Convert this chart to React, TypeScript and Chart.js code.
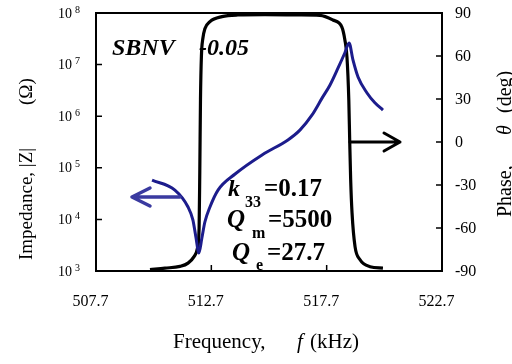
import React, { useEffect, useRef } from "react";
import { Chart, registerables } from "chart.js";
Chart.register(...registerables);

// Impedance |Z| (ohm) vs frequency (kHz)
const freqZ = [510.13, 511.12, 511.69, 511.9, 512.03, 512.16, 512.29, 512.42, 512.64, 512.99, 513.73, 514.9, 516.02, 516.54, 517.06, 517.5, 517.84, 518.19, 518.49, 518.67, 518.84, 519.06, 519.45, 519.79, 520.14];
const impedance = [57500, 37000, 17400, 9800, 4570, 2240, 4370, 8900, 17400, 37000, 75900, 177800, 346700, 537000, 1047000, 2239000, 3981000, 8511000, 16980000, 26300000, 12300000, 5750000, 2818000, 1820000, 1318000];

// Phase (deg) vs frequency (kHz)
const freqPhase = [510.04, 510.69, 511.34, 511.69, 511.95, 512.1, 512.17, 512.2, 512.23, 512.27, 512.33, 512.42, 512.64, 513.16, 513.85, 515.0, 516.5, 517.41, 517.97, 518.36, 518.49, 518.58, 518.66, 518.7, 518.74, 518.8, 518.93, 519.14, 519.58, 520.14];
const phase = [-89.0, -88.0, -86.8, -84.5, -80, -74, -60, -20, 30, 60, 72, 79, 84, 87.5, 88.6, 88.8, 88.7, 88.4, 85.1, 80.2, 71.2, 59.3, 29.3, 0, -26, -49.5, -73, -82, -87, -88];

// Ticks
const xTicks = [507.7, 512.7, 517.7, 522.7];
const xTickLabels = ["507.7", "512.7", "517.7", "522.7"];
const zTickExponents = [3, 4, 5, 6, 7, 8];
const phaseTicks = [-90, -60, -30, 0, 30, 60, 90];

// Arrow annotations (data units)
const zArrow = { from: 511.34, to: 509.26, z: 27200 };
const phaseArrow = { from: 518.71, to: 520.88, p: 0 };

const SERIF = "'Liberation Serif', 'Times New Roman', serif";

function drawArrow(ctx: CanvasRenderingContext2D, x1: number, y1: number, x2: number, y2: number, color: string, lw: number, back: number, half: number) {
  ctx.save();
  ctx.strokeStyle = color;
  ctx.lineWidth = lw;
  ctx.lineCap = "round";
  ctx.lineJoin = "round";
  ctx.beginPath();
  ctx.moveTo(x1, y1);
  ctx.lineTo(x2, y2);
  const dir = Math.sign(x2 - x1);
  ctx.moveTo(x2 - dir * back, y2 - half);
  ctx.lineTo(x2, y2);
  ctx.lineTo(x2 - dir * back, y2 + half);
  ctx.stroke();
  ctx.restore();
}

const decorPlugin = {
  id: "decor",
  afterDraw(chart: any) {
    const ctx: CanvasRenderingContext2D = chart.ctx;
    const { left, right, top, bottom } = chart.chartArea;
    const sx = chart.scales.x;
    const sz = chart.scales.yz;
    const sp = chart.scales.yp;
    ctx.save();
    // frame
    ctx.strokeStyle = "#000";
    ctx.lineWidth = 2;
    ctx.strokeRect(left, top, right - left, bottom - top);
    // ticks
    ctx.lineWidth = 1.5;
    ctx.beginPath();
    xTicks.forEach((v) => {
      const x = sx.getPixelForValue(v);
      ctx.moveTo(x, bottom);
      ctx.lineTo(x, bottom - 6);
    });
    zTickExponents.forEach((e) => {
      const y = sz.getPixelForValue(Math.pow(10, e));
      ctx.moveTo(left, y);
      ctx.lineTo(left + 6, y);
    });
    phaseTicks.forEach((v) => {
      const y = sp.getPixelForValue(v);
      ctx.moveTo(right, y);
      ctx.lineTo(right - 6, y);
    });
    ctx.stroke();

    ctx.fillStyle = "#000";
    // x tick labels
    ctx.font = `16px ${SERIF}`;
    ctx.textAlign = "center";
    ctx.textBaseline = "middle";
    xTicks.forEach((v, i) => {
      ctx.fillText(xTickLabels[i], sx.getPixelForValue(v) - 5.5, 302);
    });
    // right labels
    ctx.textAlign = "left";
    phaseTicks.forEach((v) => {
      ctx.fillText(String(v), 455, sp.getPixelForValue(v) + 1);
    });
    // left labels 10^n
    zTickExponents.forEach((e) => {
      const y = sz.getPixelForValue(Math.pow(10, e));
      ctx.font = `14px ${SERIF}`;
      ctx.textAlign = "right";
      ctx.textBaseline = "middle";
      ctx.fillText("10", 72, y + 1);
      ctx.font = `10px ${SERIF}`;
      ctx.textAlign = "left";
      ctx.fillText(String(e), 75, y - 3);
    });

    // axis titles
    ctx.textBaseline = "alphabetic";
    ctx.font = `21px ${SERIF}`;
    ctx.textAlign = "left";
    ctx.fillText("Frequency,", 173, 348);
    ctx.font = `italic 21px ${SERIF}`;
    ctx.fillText("f", 297, 348);
    const fw = ctx.measureText("f").width;
    ctx.font = `21px ${SERIF}`;
    ctx.fillText(" (kHz)", 297 + fw + 2, 348);

    // left title
    ctx.save();
    ctx.translate(32, 260);
    ctx.rotate(-Math.PI / 2);
    ctx.font = `19px ${SERIF}`;
    ctx.fillText("Impedance, |Z|", 0, 0);
    ctx.fillText("(\u03A9)", 155, 0);
    ctx.restore();

    // right title
    ctx.save();
    ctx.translate(511, 217);
    ctx.rotate(-Math.PI / 2);
    ctx.font = `20px ${SERIF}`;
    ctx.fillText("Phase,", 0, 0);
    ctx.font = `italic 20px ${SERIF}`;
    ctx.fillText("\u03B8", 82, 0);
    ctx.font = `20px ${SERIF}`;
    ctx.fillText("(deg)", 104, 0);
    ctx.restore();

    // arrows
    drawArrow(ctx, sx.getPixelForValue(zArrow.from), sz.getPixelForValue(zArrow.z), sx.getPixelForValue(zArrow.to), sz.getPixelForValue(zArrow.z), "#3a3aa0", 3.5, 18, 9);
    drawArrow(ctx, sx.getPixelForValue(phaseArrow.from), sp.getPixelForValue(phaseArrow.p), sx.getPixelForValue(phaseArrow.to), sp.getPixelForValue(phaseArrow.p), "#000", 3, 16, 9);

    // annotation text
    ctx.fillStyle = "#000";
    ctx.textAlign = "left";
    ctx.font = `bold italic 24px ${SERIF}`;
    ctx.fillText("SBNV", 112, 55);
    ctx.fillText("-0.05", 199, 55);

    ctx.font = `bold italic 24px ${SERIF}`;
    ctx.fillText("k", 228, 196);
    ctx.font = `bold 16px ${SERIF}`;
    ctx.fillText("33", 245, 207);
    ctx.font = `bold 25px ${SERIF}`;
    ctx.fillText("=0.17", 264, 196);

    ctx.font = `bold italic 25px ${SERIF}`;
    ctx.fillText("Q", 227, 227);
    ctx.font = `bold 16px ${SERIF}`;
    ctx.fillText("m", 252, 238);
    ctx.font = `bold 25px ${SERIF}`;
    ctx.fillText("=5500", 268, 227);

    ctx.font = `bold italic 25px ${SERIF}`;
    ctx.fillText("Q", 232, 260);
    ctx.font = `bold 16px ${SERIF}`;
    ctx.fillText("e", 256, 270);
    ctx.font = `bold 25px ${SERIF}`;
    ctx.fillText("=27.7", 267, 260);

    ctx.restore();
  },
};

export default function App() {
  const ref = useRef<HTMLCanvasElement | null>(null);
  useEffect(() => {
    document.body.style.margin = "0";
    const canvas = ref.current;
    if (!canvas) return;
    const chart = new Chart(canvas, {
      type: "line",
      data: {
        datasets: [
          {
            label: "|Z|",
            data: freqZ.map((f, i) => ({ x: f, y: impedance[i] })),
            yAxisID: "yz",
            borderColor: "#1c1c8c",
            borderWidth: 3,
            pointRadius: 0,
            cubicInterpolationMode: "monotone",
            fill: false,
          },
          {
            label: "Phase",
            data: freqPhase.map((f, i) => ({ x: f, y: phase[i] })),
            yAxisID: "yp",
            borderColor: "#000",
            borderWidth: 3.2,
            pointRadius: 0,
            cubicInterpolationMode: "monotone",
            fill: false,
          },
        ],
      },
      options: {
        responsive: false,
        animation: false,
        layout: { padding: { left: 96, right: 70, top: 13, bottom: 93 } },
        plugins: { legend: { display: false }, tooltip: { enabled: false } },
        scales: {
          x: { type: "linear", min: 507.7, max: 522.7, display: false },
          yz: { type: "logarithmic", min: 1000, max: 100000000, display: false },
          yp: { type: "linear", min: -90, max: 90, display: false },
        },
      },
      plugins: [decorPlugin],
    });
    return () => chart.destroy();
  }, []);
  return (
    <div style={{ position: "absolute", left: 0, top: 0, width: 512, height: 364, background: "#fff" }}>
      <canvas ref={ref} width={512} height={364} style={{ display: "block" }} />
    </div>
  );
}
